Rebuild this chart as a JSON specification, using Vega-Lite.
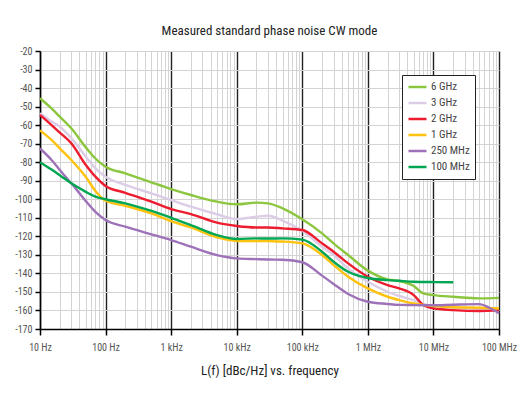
{
  "$schema": "https://vega.github.io/schema/vega-lite/v6.json",
  "width": 459,
  "height": 278,
  "autosize": {"type": "none"},
  "padding": {"left": 40, "top": 51, "right": 31, "bottom": 65},
  "background": "white",
  "config": {
    "view": {"stroke": null},
    "font": "Liberation Sans Narrow, Roboto Condensed, Arial Narrow, Roboto, Liberation Sans, sans-serif"
  },
  "title": {
    "text": "Measured standard phase noise CW mode",
    "fontSize": 13,
    "fontWeight": "normal",
    "color": "#222",
    "offset": 8
  },
  "datasets": {
    "noise": [
      {"f": 10, "s": "6 GHz", "v": -45.5}, {"f": 15, "s": "6 GHz", "v": -51}, {"f": 20, "s": "6 GHz", "v": -55.4}, {"f": 30, "s": "6 GHz", "v": -61.7}, {"f": 50, "s": "6 GHz", "v": -72}, {"f": 70, "s": "6 GHz", "v": -78}, {"f": 100, "s": "6 GHz", "v": -82.4}, {"f": 200, "s": "6 GHz", "v": -86}, {"f": 500, "s": "6 GHz", "v": -90.9}, {"f": 1000, "s": "6 GHz", "v": -94.5}, {"f": 2000, "s": "6 GHz", "v": -97.7}, {"f": 5000, "s": "6 GHz", "v": -101.3}, {"f": 10000, "s": "6 GHz", "v": -102.7}, {"f": 20000, "s": "6 GHz", "v": -101.8}, {"f": 30000, "s": "6 GHz", "v": -102.2}, {"f": 50000, "s": "6 GHz", "v": -104.9}, {"f": 100000, "s": "6 GHz", "v": -110.8}, {"f": 200000, "s": "6 GHz", "v": -118.4}, {"f": 300000, "s": "6 GHz", "v": -123.8}, {"f": 500000, "s": "6 GHz", "v": -130.1}, {"f": 1000000, "s": "6 GHz", "v": -138.5}, {"f": 2000000, "s": "6 GHz", "v": -143.2}, {"f": 3000000, "s": "6 GHz", "v": -144.1}, {"f": 5000000, "s": "6 GHz", "v": -146.8}, {"f": 7000000, "s": "6 GHz", "v": -150.8}, {"f": 10000000, "s": "6 GHz", "v": -151.7}, {"f": 20000000, "s": "6 GHz", "v": -152.6}, {"f": 50000000, "s": "6 GHz", "v": -153.5}, {"f": 100000000, "s": "6 GHz", "v": -153.2},

      {"f": 10, "s": "3 GHz", "v": -53.6}, {"f": 15, "s": "3 GHz", "v": -58}, {"f": 20, "s": "3 GHz", "v": -60.8}, {"f": 30, "s": "3 GHz", "v": -67}, {"f": 50, "s": "3 GHz", "v": -77}, {"f": 70, "s": "3 GHz", "v": -83.3}, {"f": 100, "s": "3 GHz", "v": -87.8}, {"f": 200, "s": "3 GHz", "v": -92.3}, {"f": 500, "s": "3 GHz", "v": -96.8}, {"f": 1000, "s": "3 GHz", "v": -100.4}, {"f": 2000, "s": "3 GHz", "v": -104}, {"f": 5000, "s": "3 GHz", "v": -108.1}, {"f": 10000, "s": "3 GHz", "v": -110.7}, {"f": 20000, "s": "3 GHz", "v": -109.4}, {"f": 30000, "s": "3 GHz", "v": -108.9}, {"f": 50000, "s": "3 GHz", "v": -111.5}, {"f": 100000, "s": "3 GHz", "v": -117}, {"f": 200000, "s": "3 GHz", "v": -125.6}, {"f": 300000, "s": "3 GHz", "v": -130.1}, {"f": 500000, "s": "3 GHz", "v": -137.3}, {"f": 1000000, "s": "3 GHz", "v": -144.5}, {"f": 2000000, "s": "3 GHz", "v": -149.9}, {"f": 3000000, "s": "3 GHz", "v": -152.2}, {"f": 5000000, "s": "3 GHz", "v": -154.4}, {"f": 7000000, "s": "3 GHz", "v": -156.5}, {"f": 10000000, "s": "3 GHz", "v": -157.6}, {"f": 20000000, "s": "3 GHz", "v": -158.5}, {"f": 50000000, "s": "3 GHz", "v": -159}, {"f": 100000000, "s": "3 GHz", "v": -159.5},

      {"f": 10, "s": "2 GHz", "v": -54.5}, {"f": 15, "s": "2 GHz", "v": -60}, {"f": 20, "s": "2 GHz", "v": -64}, {"f": 30, "s": "2 GHz", "v": -69.8}, {"f": 50, "s": "2 GHz", "v": -81.5}, {"f": 70, "s": "2 GHz", "v": -87.8}, {"f": 100, "s": "2 GHz", "v": -92.8}, {"f": 200, "s": "2 GHz", "v": -96.5}, {"f": 500, "s": "2 GHz", "v": -101.3}, {"f": 1000, "s": "2 GHz", "v": -105.3}, {"f": 2000, "s": "2 GHz", "v": -108}, {"f": 5000, "s": "2 GHz", "v": -112.6}, {"f": 10000, "s": "2 GHz", "v": -114.4}, {"f": 20000, "s": "2 GHz", "v": -115.2}, {"f": 30000, "s": "2 GHz", "v": -115.2}, {"f": 50000, "s": "2 GHz", "v": -115.7}, {"f": 100000, "s": "2 GHz", "v": -116.6}, {"f": 200000, "s": "2 GHz", "v": -123.8}, {"f": 300000, "s": "2 GHz", "v": -128.3}, {"f": 500000, "s": "2 GHz", "v": -134.6}, {"f": 1000000, "s": "2 GHz", "v": -141.8}, {"f": 2000000, "s": "2 GHz", "v": -146.3}, {"f": 3000000, "s": "2 GHz", "v": -148.1}, {"f": 5000000, "s": "2 GHz", "v": -151.7}, {"f": 7000000, "s": "2 GHz", "v": -157.1}, {"f": 10000000, "s": "2 GHz", "v": -158.9}, {"f": 20000000, "s": "2 GHz", "v": -159.8}, {"f": 50000000, "s": "2 GHz", "v": -160.3}, {"f": 100000000, "s": "2 GHz", "v": -159.8},

      {"f": 10, "s": "1 GHz", "v": -62.8}, {"f": 15, "s": "1 GHz", "v": -68}, {"f": 20, "s": "1 GHz", "v": -72.5}, {"f": 30, "s": "1 GHz", "v": -78.8}, {"f": 50, "s": "1 GHz", "v": -88}, {"f": 70, "s": "1 GHz", "v": -95.5}, {"f": 100, "s": "1 GHz", "v": -100.8}, {"f": 200, "s": "1 GHz", "v": -103.5}, {"f": 500, "s": "1 GHz", "v": -107.6}, {"f": 1000, "s": "1 GHz", "v": -111.8}, {"f": 2000, "s": "1 GHz", "v": -115.2}, {"f": 5000, "s": "1 GHz", "v": -120.5}, {"f": 10000, "s": "1 GHz", "v": -122.5}, {"f": 20000, "s": "1 GHz", "v": -122.5}, {"f": 30000, "s": "1 GHz", "v": -122.6}, {"f": 50000, "s": "1 GHz", "v": -122.8}, {"f": 100000, "s": "1 GHz", "v": -123.8}, {"f": 200000, "s": "1 GHz", "v": -130.1}, {"f": 300000, "s": "1 GHz", "v": -135.5}, {"f": 500000, "s": "1 GHz", "v": -141.8}, {"f": 1000000, "s": "1 GHz", "v": -148.1}, {"f": 2000000, "s": "1 GHz", "v": -152.6}, {"f": 3000000, "s": "1 GHz", "v": -154.4}, {"f": 5000000, "s": "1 GHz", "v": -156.2}, {"f": 7000000, "s": "1 GHz", "v": -157}, {"f": 10000000, "s": "1 GHz", "v": -157.6}, {"f": 20000000, "s": "1 GHz", "v": -158.3}, {"f": 50000000, "s": "1 GHz", "v": -158.5}, {"f": 100000000, "s": "1 GHz", "v": -158.9},

      {"f": 10, "s": "250 MHz", "v": -72.6}, {"f": 15, "s": "250 MHz", "v": -78.8}, {"f": 20, "s": "250 MHz", "v": -84.2}, {"f": 30, "s": "250 MHz", "v": -91.4}, {"f": 50, "s": "250 MHz", "v": -101}, {"f": 70, "s": "250 MHz", "v": -106.8}, {"f": 100, "s": "250 MHz", "v": -111.2}, {"f": 200, "s": "250 MHz", "v": -114.8}, {"f": 500, "s": "250 MHz", "v": -118.9}, {"f": 1000, "s": "250 MHz", "v": -122}, {"f": 2000, "s": "250 MHz", "v": -125.6}, {"f": 5000, "s": "250 MHz", "v": -130.1}, {"f": 10000, "s": "250 MHz", "v": -131.9}, {"f": 20000, "s": "250 MHz", "v": -132.3}, {"f": 30000, "s": "250 MHz", "v": -132.5}, {"f": 50000, "s": "250 MHz", "v": -132.6}, {"f": 100000, "s": "250 MHz", "v": -134}, {"f": 200000, "s": "250 MHz", "v": -141.2}, {"f": 300000, "s": "250 MHz", "v": -145.7}, {"f": 500000, "s": "250 MHz", "v": -151.1}, {"f": 1000000, "s": "250 MHz", "v": -155.3}, {"f": 2000000, "s": "250 MHz", "v": -156.5}, {"f": 3000000, "s": "250 MHz", "v": -157}, {"f": 5000000, "s": "250 MHz", "v": -157.1}, {"f": 10000000, "s": "250 MHz", "v": -157.2}, {"f": 20000000, "s": "250 MHz", "v": -156.9}, {"f": 50000000, "s": "250 MHz", "v": -156.6}, {"f": 70000000, "s": "250 MHz", "v": -158.4}, {"f": 100000000, "s": "250 MHz", "v": -161.5},

      {"f": 10, "s": "100 MHz", "v": -80}, {"f": 15, "s": "100 MHz", "v": -84}, {"f": 20, "s": "100 MHz", "v": -87}, {"f": 30, "s": "100 MHz", "v": -91.4}, {"f": 50, "s": "100 MHz", "v": -96}, {"f": 70, "s": "100 MHz", "v": -98.6}, {"f": 100, "s": "100 MHz", "v": -100}, {"f": 200, "s": "100 MHz", "v": -102.2}, {"f": 500, "s": "100 MHz", "v": -106.3}, {"f": 1000, "s": "100 MHz", "v": -110}, {"f": 2000, "s": "100 MHz", "v": -113.9}, {"f": 5000, "s": "100 MHz", "v": -119.3}, {"f": 10000, "s": "100 MHz", "v": -121.4}, {"f": 20000, "s": "100 MHz", "v": -121.1}, {"f": 30000, "s": "100 MHz", "v": -121.2}, {"f": 50000, "s": "100 MHz", "v": -121.1}, {"f": 100000, "s": "100 MHz", "v": -121.8}, {"f": 200000, "s": "100 MHz", "v": -128.3}, {"f": 300000, "s": "100 MHz", "v": -133.7}, {"f": 500000, "s": "100 MHz", "v": -139.1}, {"f": 1000000, "s": "100 MHz", "v": -142.5}, {"f": 2000000, "s": "100 MHz", "v": -143.6}, {"f": 3000000, "s": "100 MHz", "v": -144}, {"f": 5000000, "s": "100 MHz", "v": -144.5}, {"f": 10000000, "s": "100 MHz", "v": -144.7}, {"f": 20000000, "s": "100 MHz", "v": -144.8}
    ]
  },
  "data": {"name": "noise"},
  "mark": {"type": "line", "strokeWidth": 2.4, "interpolate": "monotone"},
  "encoding": {
    "x": {
      "field": "f",
      "type": "quantitative",
      "scale": {"type": "log", "domain": [10, 100000000], "nice": false},
      "axis": {
        "title": "L(f) [dBc/Hz] vs. frequency",
        "titleFontSize": 13,
        "titleFontWeight": "normal",
        "titleColor": "#222",
        "titlePadding": 12,
        "values": [10, 20, 30, 40, 50, 60, 70, 80, 90, 100, 200, 300, 400, 500, 600, 700, 800, 900, 1000, 2000, 3000, 4000, 5000, 6000, 7000, 8000, 9000, 10000, 20000, 30000, 40000, 50000, 60000, 70000, 80000, 90000, 100000, 200000, 300000, 400000, 500000, 600000, 700000, 800000, 900000, 1000000, 2000000, 3000000, 4000000, 5000000, 6000000, 7000000, 8000000, 9000000, 10000000, 20000000, 30000000, 40000000, 50000000, 60000000, 70000000, 80000000, 90000000, 100000000],
        "labelExpr": "datum.value == 10 ? '10 Hz' : datum.value == 100 ? '100 Hz' : datum.value == 1000 ? '1 kHz' : datum.value == 10000 ? '10 kHz' : datum.value == 100000 ? '100 kHz' : datum.value == 1000000 ? '1 MHz' : datum.value == 10000000 ? '10 MHz' : datum.value == 100000000 ? '100 MHz' : ''",
        "labelFlush": false,
        "labelOverlap": false,
        "labelColor": "#555",
        "labelFontSize": 10,
        "labelPadding": 7,
        "grid": true,
        "gridColor": {"condition": {"test": "abs(log(datum.value)/LN10 - round(log(datum.value)/LN10)) < 0.001", "value": "#222"}, "value": "#d3d3d3"},
        "gridWidth": {"condition": {"test": "abs(log(datum.value)/LN10 - round(log(datum.value)/LN10)) < 0.001", "value": 1.4}, "value": 1},
        "tickColor": "#000",
        "tickSize": 6,
        "tickWidth": 1.5,
        "tickOpacity": {"condition": {"test": "abs(log(datum.value)/LN10 - round(log(datum.value)/LN10)) < 0.001", "value": 1}, "value": 0},
        "domainColor": "#000",
        "domainWidth": 1.5
      }
    },
    "y": {
      "field": "v",
      "type": "quantitative",
      "scale": {"domain": [-170, -20], "nice": false, "zero": false},
      "axis": {
        "title": null,
        "values": [-170, -160, -150, -140, -130, -120, -110, -100, -90, -80, -70, -60, -50, -40, -30, -20],
        "labelExpr": "'-' + abs(datum.value)",
        "labelColor": "#555",
        "labelFontSize": 10,
        "labelPadding": 3,
        "grid": true,
        "gridColor": "#d3d3d3",
        "gridWidth": 1,
        "tickColor": "#000",
        "tickSize": 5,
        "tickWidth": 1.5,
        "domainColor": "#000",
        "domainWidth": 1.5
      }
    },
    "color": {
      "field": "s",
      "type": "nominal",
      "scale": {
        "domain": ["6 GHz", "3 GHz", "2 GHz", "1 GHz", "250 MHz", "100 MHz"],
        "range": ["#8cc63f", "#dccde7", "#ed1c2e", "#ffc20e", "#9e72b8", "#00a651"]
      },
      "legend": {
        "title": null,
        "orient": "top-right",
        "offset": 24,
        "strokeColor": "#222",
        "fillColor": "white",
        "padding": 5,
        "symbolType": "stroke",
        "symbolStrokeWidth": 2.5,
        "symbolSize": 324,
        "clipHeight": 14,
        "labelFontSize": 11,
        "labelColor": "#444",
        "rowPadding": 2,
        "labelOffset": 3
      }
    }
  }
}
